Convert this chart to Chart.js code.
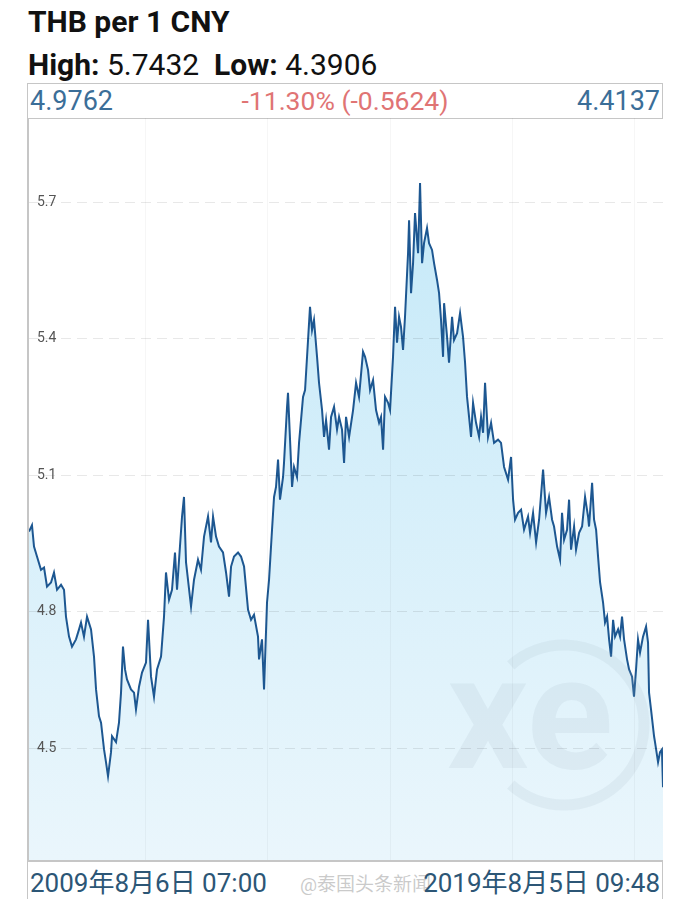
<!DOCTYPE html>
<html>
<head>
<meta charset="utf-8">
<script src="https://cdn.jsdelivr.net/npm/chart.js@4.4.0/dist/chart.umd.min.js"></script>
<style>
  body { margin: 0; background: #fff; font-family: Roboto, "Noto Sans CJK SC", sans-serif; }
  .abs { position: absolute; }
  #title { left: 28px; top: 7px; font-size: 30px; line-height: 30px; font-weight: bold; color: #111; }
  #hl { left: 28px; top: 50px; font-size: 30px; line-height: 30px; color: #111; }
  #hl b { font-weight: bold; }
  .bar { left: 27px; width: 634px; border: 1px solid #c6c6c6; background: #fff; }
  #topbar { top: 83px; height: 34px; }
  #topbar span, #bottombar span { position: absolute; white-space: nowrap; }
  #chartbox { left: 27px; top: 118px; width: 636px; height: 742px; border-left: 2px solid #c6c6c6; box-sizing: border-box; }
  #bottombar { top: 860px; height: 37px; border-top: 2px solid #c6c6c6; }
</style>
</head>
<body>
<div id="title" class="abs">THB per 1 CNY</div>
<div id="hl" class="abs"><b>High:</b> 5.7432&nbsp; <b>Low:</b> 4.3906</div>

<div id="topbar" class="abs bar">
  <span style="left:2px; top:1px; font-size:27px; color:#3b6e98;">4.9762</span>
  <span style="left:0; right:0; text-align:center; top:1px; font-size:26.5px; color:#e07474;">-11.30% (-0.5624)</span>
  <span style="right:2px; top:1px; font-size:27px; color:#3b6e98;">4.4137</span>
</div>

<div id="chartbox" class="abs"><canvas id="rateChart"></canvas></div>

<div id="bottombar" class="abs bar">
  <span style="left:2px; top:0; font-size:26px; color:#2c5676;">2009年8月6日 07:00</span>
  <span style="left:272px; top:7px; font-size:19px; color:rgba(150,150,150,0.5);">@泰国头条新闻</span>
  <span style="right:2px; top:0; font-size:26px; color:#2c5676;">2019年8月5日 09:48</span>
</div>

<script>
// time in decimal years, 2009-08-06 .. 2019-08-05
const years = [
  2009.595, 2009.642, 2009.674, 2009.721, 2009.784, 2009.832, 2009.879, 2009.942, 2009.989, 2010.037,
  2010.100, 2010.147, 2010.178, 2010.226, 2010.273, 2010.336, 2010.384, 2010.415, 2010.462, 2010.510,
  2010.573, 2010.620, 2010.652, 2010.699, 2010.731, 2010.778, 2010.809, 2010.841, 2010.888, 2010.904,
  2010.967, 2011.014, 2011.046, 2011.077, 2011.109, 2011.140, 2011.203, 2011.251, 2011.282, 2011.330,
  2011.377, 2011.440, 2011.472, 2011.519, 2011.566, 2011.614, 2011.677, 2011.724, 2011.755, 2011.803,
  2011.850, 2011.897, 2011.929, 2011.961, 2012.008, 2012.039,
  2012.071, 2012.150, 2012.197, 2012.260, 2012.307, 2012.355, 2012.418, 2012.465, 2012.497, 2012.544,
  2012.591, 2012.654, 2012.702, 2012.749, 2012.781, 2012.828, 2012.891, 2012.938, 2012.986, 2013.049,
  2013.096, 2013.143, 2013.206, 2013.222, 2013.269, 2013.301, 2013.348, 2013.380, 2013.427, 2013.459,
  2013.490, 2013.522, 2013.553, 2013.601, 2013.616, 2013.664, 2013.679, 2013.711, 2013.743, 2013.774,
  2013.821, 2013.853, 2013.916, 2013.948, 2013.995, 2014.026, 2014.058, 2014.089, 2014.137, 2014.168,
  2014.216, 2014.247, 2014.279, 2014.326, 2014.358, 2014.405, 2014.452, 2014.484, 2014.531, 2014.563,
  2014.594, 2014.642, 2014.705, 2014.752, 2014.799, 2014.862, 2014.894, 2014.941, 2014.973, 2015.020,
  2015.067, 2015.115, 2015.146, 2015.178, 2015.209, 2015.257, 2015.288, 2015.335, 2015.367, 2015.398,
  2015.430, 2015.461, 2015.493, 2015.524, 2015.572, 2015.588, 2015.619, 2015.651, 2015.682, 2015.730,
  2015.761, 2015.793, 2015.824, 2015.871, 2015.903, 2015.950, 2015.982, 2016.029, 2016.061, 2016.092,
  2016.124, 2016.140, 2016.187, 2016.218, 2016.266, 2016.297, 2016.345, 2016.392, 2016.439, 2016.471,
  2016.502, 2016.534, 2016.565, 2016.597, 2016.644, 2016.692, 2016.723, 2016.755, 2016.786, 2016.833,
  2016.881, 2016.928, 2016.991,
  2017.038, 2017.086, 2017.149, 2017.196, 2017.228, 2017.259, 2017.307, 2017.354, 2017.401, 2017.464,
  2017.496, 2017.543, 2017.591, 2017.638, 2017.701, 2017.748, 2017.795, 2017.843, 2017.874, 2017.922,
  2017.969, 2018.000, 2018.032, 2018.079, 2018.111, 2018.142, 2018.190, 2018.221, 2018.269, 2018.316,
  2018.363, 2018.410, 2018.426, 2018.474, 2018.505, 2018.537, 2018.568, 2018.600, 2018.647, 2018.678,
  2018.710, 2018.742, 2018.773, 2018.805, 2018.836, 2018.884, 2018.915, 2018.946, 2018.978, 2019.025,
  2019.057, 2019.104, 2019.135, 2019.167, 2019.198, 2019.230, 2019.277, 2019.325, 2019.356, 2019.372,
  2019.403, 2019.451, 2019.466, 2019.514, 2019.545, 2019.575, 2019.592
];

// THB per 1 CNY
const rates = [
  4.976, 4.990, 4.943, 4.921, 4.892, 4.897, 4.855, 4.864, 4.886, 4.848,
  4.859, 4.848, 4.789, 4.745, 4.723, 4.739, 4.761, 4.776, 4.745, 4.789,
  4.761, 4.701, 4.629, 4.570, 4.556, 4.497, 4.469, 4.438, 4.491, 4.526,
  4.513, 4.556, 4.622, 4.723, 4.673, 4.651, 4.629, 4.622, 4.585, 4.635,
  4.666, 4.688, 4.782, 4.657, 4.613, 4.673, 4.701, 4.789, 4.886, 4.826,
  4.848, 4.930, 4.848, 4.914, 5.009, 5.052,
  4.908, 4.811, 4.870, 4.914, 4.892, 4.965, 5.009, 4.952, 5.009, 4.965,
  4.943, 4.930, 4.886, 4.833, 4.899, 4.921, 4.930, 4.921, 4.899, 4.804,
  4.782, 4.793, 4.745, 4.695, 4.739, 4.629, 4.820, 4.870, 4.980, 5.052,
  5.074, 5.134, 5.046, 5.096, 5.127, 5.250, 5.281, 5.178, 5.074, 5.118,
  5.096, 5.171, 5.272, 5.287, 5.397, 5.470, 5.419, 5.441, 5.360, 5.303,
  5.243, 5.184, 5.221, 5.156, 5.228, 5.250, 5.200, 5.228, 5.200, 5.127,
  5.228, 5.184, 5.243, 5.303, 5.272, 5.371, 5.360, 5.331, 5.287, 5.309,
  5.243, 5.215, 5.228, 5.156, 5.272, 5.259, 5.243, 5.360, 5.470, 5.391,
  5.448, 5.426, 5.375, 5.448, 5.588, 5.660, 5.500, 5.566, 5.676, 5.588,
  5.742, 5.566, 5.610, 5.643, 5.610, 5.595, 5.566, 5.529, 5.500, 5.441,
  5.360, 5.478, 5.404, 5.347, 5.448, 5.397, 5.412, 5.456, 5.404, 5.347,
  5.272, 5.228, 5.184, 5.259, 5.215, 5.184, 5.228, 5.193, 5.303, 5.184,
  5.215, 5.171, 5.178,
  5.171, 5.118, 5.090, 5.140, 5.046, 5.002, 5.017, 5.024, 4.980, 5.009,
  4.973, 5.017, 4.952, 5.002, 5.112, 5.017, 5.052, 5.002, 4.987, 4.943,
  4.914, 5.017, 4.958, 4.980, 5.046, 4.936, 4.987, 4.936, 4.973, 4.987,
  5.052, 5.009, 4.987, 5.083, 5.002, 4.980, 4.921, 4.864, 4.820, 4.776,
  4.789, 4.739, 4.701, 4.782, 4.745, 4.761, 4.745, 4.789, 4.739, 4.695,
  4.673, 4.657, 4.613, 4.673, 4.739, 4.710, 4.745, 4.767, 4.732, 4.622,
  4.585, 4.526, 4.513, 4.469, 4.491, 4.497, 4.414
];

const yTicks = [4.5, 4.8, 5.1, 5.4, 5.7];
const xGridYears = [2011.425, 2013.357, 2015.29, 2017.22, 2019.15];

// faint xe logo
const xeWatermark = {
    id: 'xeWatermark',
    afterDatasetsDraw(chart) {
        const ctx = chart.ctx;
        const a = chart.chartArea;
        ctx.save();
        ctx.globalAlpha = 0.15;
        ctx.strokeStyle = '#9fb2c0';
        ctx.lineWidth = 11;
        ctx.beginPath();
        ctx.arc(a.left + 535, a.top + 607, 80, -2.3, 2.3);
        ctx.stroke();
        ctx.fillStyle = '#9fb2c0';
        ctx.font = 'bold 160px Roboto';
        ctx.textBaseline = 'alphabetic';
        ctx.fillText('xe', a.left + 418, a.top + 650);
        ctx.restore();
    }
};

// drop the space chart.js keeps around the axes so the plot fills the box
function noAxisSpace(scale) {
    if (scale.isHorizontal()) scale.height = 0; else scale.width = 0;
    scale.paddingTop = 0;
    scale.paddingBottom = 0;
    scale.paddingLeft = 0;
    scale.paddingRight = 0;
}

const ctx = document.getElementById('rateChart').getContext('2d');
const rateChart = new Chart(ctx, {
    type: 'line',
    data: {
        datasets: [{
            data: years.map((t, i) => ({ x: t, y: rates[i] })),
            borderColor: '#1d5791',
            borderWidth: 2,
            pointRadius: 0,
            tension: 0,
            fill: 'start',
            backgroundColor: function(context) {
                const area = context.chart.chartArea;
                if (!area) return '#d6f0fa';
                const g = context.chart.ctx.createLinearGradient(0, area.top, 0, area.bottom);
                g.addColorStop(0, '#c2e8f8');
                g.addColorStop(1, '#eaf6fc');
                return g;
            }
        }]
    },
    options: {
        responsive: true,
        maintainAspectRatio: false,
        animation: false,
        layout: { padding: 0 },
        plugins: { legend: { display: false }, tooltip: { enabled: false } },
        scales: {
            x: {
                type: 'linear',
                min: 2009.595,
                max: 2019.592,
                afterBuildTicks: axis => { axis.ticks = xGridYears.map(v => ({ value: v })); },
                afterFit: noAxisSpace,
                ticks: { display: false },
                grid: { z: 1, color: 'rgba(0,0,0,0.035)', drawTicks: false },
                border: { display: false }
            },
            y: {
                min: 4.254,
                max: 5.885,
                afterBuildTicks: axis => { axis.ticks = yTicks.map(v => ({ value: v })); },
                afterFit: noAxisSpace,
                ticks: {
                    z: 1,
                    mirror: true,
                    autoSkip: false,
                    padding: 8,
                    color: '#555',
                    font: { family: 'Roboto', size: 14 },
                    callback: v => v.toFixed(1)
                },
                grid: { z: 1, color: 'rgba(0,0,0,0.09)', drawTicks: false },
                border: { display: false, dash: [10, 6] }
            }
        }
    },
    plugins: [xeWatermark]
});
</script>
</body>
</html>
